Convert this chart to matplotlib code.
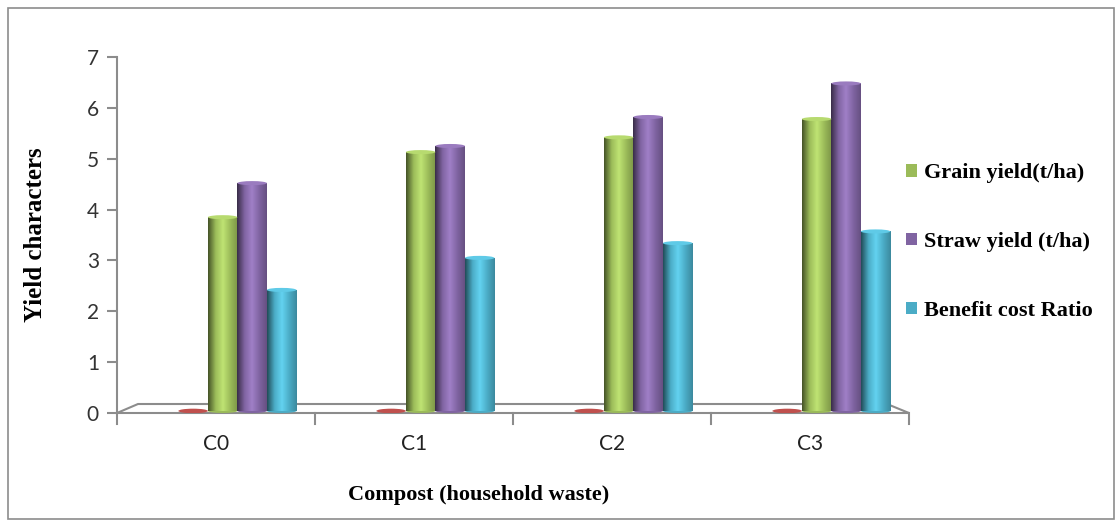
import numpy as np
import matplotlib.pyplot as plt
from matplotlib.patches import Ellipse, Patch, Polygon, Rectangle
from matplotlib.colors import LinearSegmentedColormap, to_rgb

categories = ['C0', 'C1', 'C2', 'C3']
series_names = ['Grain yield(t/ha)', 'Straw yield (t/ha)', 'Benefit cost Ratio']
grain_yield = [3.85, 5.13, 5.42, 5.78]
straw_yield = [4.52, 5.25, 5.82, 6.48]
benefit_cost = [2.42, 3.05, 3.34, 3.57]
zero_series = [0, 0, 0, 0]
y_ticks = [0, 1, 2, 3, 4, 5, 6, 7]

colors = ['#9BBB59', '#8064A2', '#4BACC6']
red = '#C0504D'
gray = '#8C8C8C'

W, H = 1115, 521
fig = plt.figure(figsize=(W / 100, H / 100), dpi=100)

# outer chart border
fig.add_artist(Rectangle((8 / W, 2 / H), (W - 9) / W, (H - 10) / H, transform=fig.transFigure,
                         fill=False, edgecolor=gray, lw=1.2))

ax = fig.add_axes([117 / W, (H - 413) / H, 792 / W, 356 / H])

x = np.arange(len(categories))
width = 0.149
shift = 0.108
base = 0.04


def shade(c):
    r, g, b = to_rgb(c)
    dark = (r * 0.45, g * 0.45, b * 0.45)
    light = tuple(min(1, v * 1.15 + 0.05) for v in (r, g, b))
    return LinearSegmentedColormap.from_list('s', [dark, (r, g, b), light, (r, g, b), (r * 0.8, g * 0.8, b * 0.8)])


# floor
floor = Polygon([(-0.5, 0), (3.5, 0), (3.5 - 22 / 198, 9 / 50.9), (-0.5 + 21 / 198, 9 / 50.9)],
                closed=True, facecolor='white', edgecolor=gray, lw=1.5, clip_on=False, zorder=1)
ax.add_patch(floor)

# zero series (flat red discs)
for xi, v in zip(x, zero_series):
    ax.add_patch(Ellipse((xi - 1.5 * width + shift, base + v), width, 0.09,
                         facecolor=red, edgecolor='none', zorder=2))

grad = np.linspace(0, 1, 64).reshape(1, -1)
for k, (vals, c) in enumerate(zip([grain_yield, straw_yield, benefit_cost], colors)):
    xs = x + (k - 0.5) * width + shift
    bars = ax.bar(xs, np.array(vals) - base, width, bottom=base, color=c, edgecolor='none', zorder=3)
    cmap = shade(c)
    for b in bars:
        bx, by = b.get_x(), b.get_y()
        bw, bh = b.get_width(), b.get_height()
        im = ax.imshow(grad, cmap=cmap, aspect='auto', extent=(bx, bx + bw, by, by + bh), zorder=3.5)
        im.set_clip_path(b)
        ax.add_patch(Ellipse((bx + bw / 2, by + bh), bw, 0.08,
                             facecolor=tuple(min(1, v * 1.1 + 0.05) for v in to_rgb(c)),
                             edgecolor='none', zorder=4))
        ax.add_patch(Ellipse((bx + bw / 2, by), bw, 0.08, facecolor=c, edgecolor='none', zorder=2.9))

ax.set_xlim(-0.5, 3.5)
ax.set_ylim(0, 7)

for s in ['top', 'right', 'bottom']:
    ax.spines[s].set_visible(False)
ax.spines['left'].set_color(gray)
ax.spines['left'].set_linewidth(1.5)

ax.set_yticks(y_ticks)
ax.set_yticklabels([str(t) for t in y_ticks], fontfamily='Lato', fontsize=15, color='#333333')
ax.tick_params(axis='y', direction='out', length=7, width=1.5, color=gray, pad=6)

ax.set_xticks(x)
ax.set_xticklabels(categories, fontfamily='Lato', fontsize=15, color='#222222')
ax.tick_params(axis='x', length=0, pad=15)
for t in np.arange(-0.5, 4.0, 1.0):
    ax.plot([t, t], [0, -11 / 50.9], color=gray, lw=1.5, clip_on=False, zorder=1)

fig.text(36 / W, 1 - 235 / H, 'Yield characters', fontfamily='Liberation Serif', fontweight='bold',
         fontsize=18, rotation=90, ha='center', va='center')
fig.text(479 / W, 1 - 495 / H, 'Compost (household waste)', fontfamily='Liberation Serif',
         fontweight='bold', fontsize=16, ha='center', va='center')

handles = [Patch(facecolor=c, edgecolor='none') for c in colors]
fig.legend(handles, series_names, loc='center left', bbox_to_anchor=(897 / W, 1 - 242 / H),
           frameon=False, prop={'family': 'Liberation Serif', 'weight': 'bold', 'size': 16},
           handlelength=0.5, handleheight=0.5, handletextpad=0.3, labelspacing=2.2, borderaxespad=0)

fig.savefig('out.png', dpi=100)
